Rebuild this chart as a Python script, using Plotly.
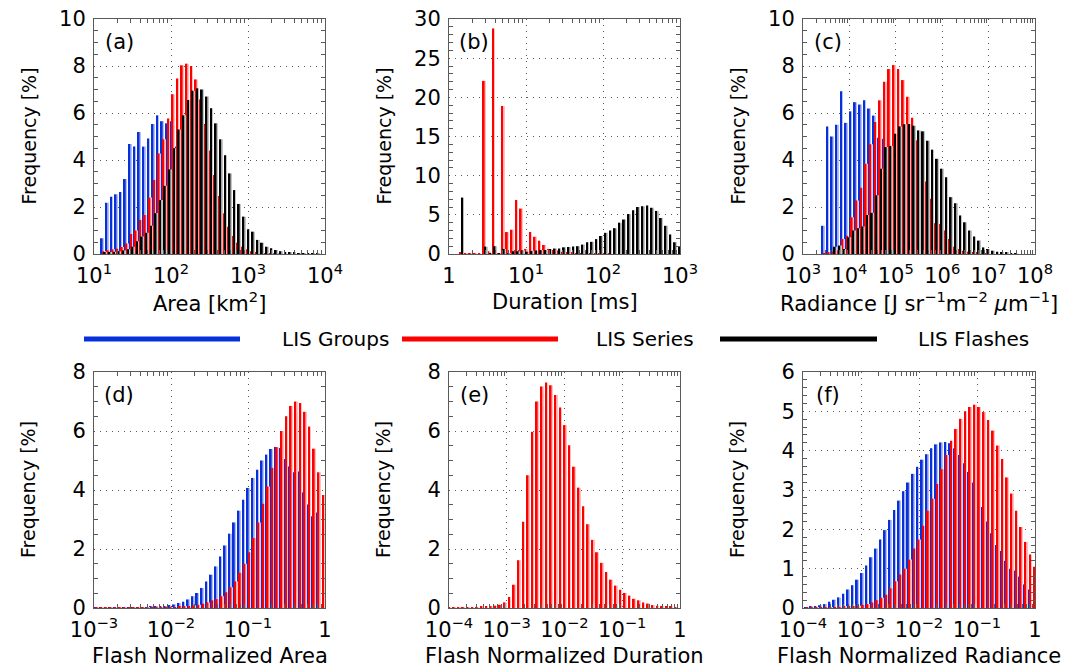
import numpy as np
import plotly.graph_objects as go

# ---------------------------------------------------------------------------
# Histogram data (frequency in %), one list per series, bins in log10 space
# ---------------------------------------------------------------------------

# (a) Area [km^2]  -- bins of 0.06 decade, first bin centre at 10^1.12
AREA_FIRST, AREA_STEP = 1.12, 0.06
area_groups = [0.67, 2.18, 2.44, 2.54, 2.64, 3.19, 4.68, 4.57, 5.19, 4.57, 4.91, 5.53, 5.90,
               5.65, 5.56, 5.65, 4.57, 4.95, 4.57, 3.43, 3.30, 2.35, 2.30, 1.45, 1.38, 0.88,
               0.78, 0.72, 0.42, 0.28, 0.20, 0.14, 0.10, 0.07, 0.05, 0.04, 0.03, 0.02, 0.01]
area_series = [0.12, 0.15, 0.20, 0.22, 0.30, 0.45, 0.85, 1.00, 1.45, 1.66, 2.40, 3.15, 4.28,
               4.88, 5.77, 6.80, 7.47, 8.03, 8.10, 8.00, 7.43, 6.58, 5.53, 4.40, 3.36, 2.47,
               1.73, 1.16, 0.77, 0.48, 0.31, 0.20, 0.12, 0.08, 0.05, 0.03, 0.02]
area_flashes = [0.05, 0.08, 0.10, 0.12, 0.15, 0.20, 0.31, 0.54, 0.74, 0.90, 1.20, 1.74, 2.30,
                2.90, 3.60, 4.50, 5.30, 5.90, 6.55, 6.95, 7.05, 7.00, 6.70, 6.20, 5.56, 4.88,
                4.20, 3.43, 2.72, 2.13, 1.59, 1.05, 0.95, 0.60, 0.48, 0.31, 0.24, 0.17, 0.12,
                0.09, 0.07, 0.05, 0.04, 0.03, 0.02, 0.02, 0.01]

# (b) Duration [ms] -- bins of 0.06 decade
DUR_FIRST, DUR_STEP = 0.151, 0.06
dur_series = [0.20, 0.02, 0.02, 0.02, 0.02, 22.1, 0.35, 28.8, 0.05, 18.9, 2.80, 3.10, 6.90,
              5.80, 0.65, 2.80, 2.20, 1.70, 1.15, 0.65, 0.50, 0.45, 0.30, 0.20, 0.15, 0.10,
              0.08, 0.05, 0.04, 0.03, 0.02, 0.02, 0.01]
dur_flashes = [7.20, 0.00, 0.00, 0.00, 0.00, 0.94, 0.10, 1.00, 0.10, 0.65, 0.10, 0.35, 0.35,
               0.47, 0.30, 0.40, 0.45, 0.50, 0.50, 0.65, 0.70, 0.70, 0.85, 0.90, 0.95, 1.00,
               1.20, 1.50, 1.55, 1.90, 2.30, 2.70, 3.00, 3.30, 4.00, 4.40, 5.10, 5.60, 6.00,
               6.10, 6.20, 5.90, 5.50, 4.60, 3.60, 2.50, 1.50, 0.90]

# (c) Radiance [J sr^-1 m^-2 um^-1] -- bins of 0.1 decade
RAD_FIRST, RAD_STEP = 3.45, 0.1
rad_groups = [1.20, 5.43, 5.00, 5.50, 6.93, 5.58, 6.07, 6.46, 6.36, 6.54, 6.19, 5.89, 4.95,
              4.90, 4.10, 3.60, 3.20, 2.65, 2.15, 1.70, 1.30, 0.95, 0.70, 0.40, 0.25, 0.15,
              0.10, 0.06, 0.04, 0.02]
rad_series = [0.02, 0.05, 0.10, 0.15, 0.64, 0.78, 1.56, 2.28, 2.82, 3.84, 4.67, 5.62, 6.54,
              7.33, 7.87, 8.04, 7.87, 7.40, 6.69, 5.80, 4.84, 3.94, 3.09, 2.35, 1.31, 1.28,
              1.00, 0.64, 0.31, 0.21, 0.14, 0.10, 0.07, 0.05, 0.03, 0.02]
rad_flashes = [0.00, 0.00, 0.31, 0.36, 0.21, 0.71, 1.00, 1.10, 1.17, 1.66, 1.75, 2.50, 3.63,
               4.55, 4.60, 5.12, 5.43, 5.52, 5.53, 5.46, 5.26, 5.22, 4.82, 4.44, 4.05, 3.63,
               3.27, 2.42, 2.16, 1.64, 1.35, 1.00, 0.74, 0.57, 0.28, 0.21, 0.14, 0.10, 0.07,
               0.05, 0.03, 0.02]

# (d) Flash normalized area -- bins of 0.06 decade
NAREA_FIRST, NAREA_STEP = -2.975, 0.06
narea_groups = [0.01, 0.01, 0.01, 0.01, 0.01, 0.01, 0.02, 0.02, 0.02, 0.02, 0.03, 0.03, 0.05,
                0.05, 0.06, 0.07, 0.10, 0.12, 0.17, 0.21, 0.29, 0.40, 0.51, 0.68, 0.90, 1.13,
                1.41, 1.75, 2.12, 2.52, 2.90, 3.30, 3.67, 4.07, 4.41, 4.69, 5.00, 5.20, 5.39,
                5.46, 5.42, 5.05, 4.80, 4.60, 4.63, 3.92, 3.51, 3.11, 3.24]
narea_series = [0.01, 0.01, 0.01, 0.01, 0.01, 0.01, 0.01, 0.01, 0.01, 0.01, 0.02, 0.02, 0.02,
                0.02, 0.02, 0.02, 0.03, 0.03, 0.04, 0.05, 0.06, 0.09, 0.11, 0.14, 0.19, 0.26,
                0.30, 0.40, 0.53, 0.70, 0.90, 1.19, 1.50, 1.89, 2.37, 2.90, 3.53, 4.12, 4.75,
                5.45, 6.00, 6.50, 6.85, 7.00, 6.95, 6.65, 6.15, 5.40, 4.60, 3.83]

# (e) Flash normalized duration -- bins of 0.08 decade
NDUR_FIRST, NDUR_STEP = -4.0, 0.08
ndur_series = [0.02, 0.02, 0.02, 0.02, 0.02, 0.03, 0.03, 0.04, 0.05, 0.06, 0.08, 0.11, 0.19,
               0.37, 0.79, 1.62, 2.92, 4.50, 5.97, 7.00, 7.51, 7.64, 7.55, 7.22, 6.80, 6.20,
               5.52, 4.79, 4.08, 3.45, 2.84, 2.31, 1.89, 1.53, 1.22, 0.96, 0.76, 0.62, 0.51,
               0.42, 0.31, 0.26, 0.19, 0.15, 0.10, 0.08, 0.06, 0.05, 0.04, 0.03]

# (f) Flash normalized radiance -- bins of 0.08 decade
NRAD_FIRST, NRAD_STEP = -3.94, 0.08
nrad_groups = [0.02, 0.03, 0.04, 0.07, 0.10, 0.16, 0.21, 0.27, 0.36, 0.47, 0.58, 0.72, 0.89,
               1.08, 1.29, 1.51, 1.74, 1.98, 2.24, 2.49, 2.73, 2.97, 3.19, 3.41, 3.59, 3.77,
               3.91, 4.06, 4.16, 4.21, 4.22, 4.19, 4.06, 3.89, 3.68, 3.46, 3.19, 2.88, 2.57,
               2.20, 1.90, 1.60, 1.45, 1.20, 1.00, 0.95, 0.80, 0.60, 0.47]
nrad_series = [0.01, 0.01, 0.01, 0.01, 0.02, 0.02, 0.02, 0.02, 0.03, 0.03, 0.04, 0.06, 0.08,
               0.10, 0.14, 0.20, 0.26, 0.34, 0.50, 0.68, 0.85, 1.00, 1.23, 1.51, 1.74, 2.09,
               2.47, 2.78, 3.15, 3.53, 3.89, 4.25, 4.55, 4.81, 5.00, 5.11, 5.17, 5.11, 4.98,
               4.78, 4.51, 4.13, 3.79, 3.32, 2.91, 2.47, 2.06, 1.68, 1.36, 1.05]

# Axis tick labels
top_xticks = {
    "a": (["10<sup>1</sup>", "10<sup>2</sup>", "10<sup>3</sup>", "10<sup>4</sup>"], [1, 2, 3, 4]),
    "b": (["1", "10<sup>1</sup>", "10<sup>2</sup>", "10<sup>3</sup>"], [0, 1, 2, 3]),
    "c": (["10<sup>3</sup>", "10<sup>4</sup>", "10<sup>5</sup>", "10<sup>6</sup>",
           "10<sup>7</sup>", "10<sup>8</sup>"], [3, 4, 5, 6, 7, 8]),
}
bottom_xticks = {
    "d": (["10<sup>\u22123</sup>", "10<sup>\u22122</sup>", "10<sup>\u22121</sup>", "1"], [-3, -2, -1, 0]),
    "e": (["10<sup>\u22124</sup>", "10<sup>\u22123</sup>", "10<sup>\u22122</sup>",
           "10<sup>\u22121</sup>", "1"], [-4, -3, -2, -1, 0]),
    "f": (["10<sup>\u22124</sup>", "10<sup>\u22123</sup>", "10<sup>\u22122</sup>",
           "10<sup>\u22121</sup>", "1"], [-4, -3, -2, -1, 0]),
}

# ---------------------------------------------------------------------------
# Styling
# ---------------------------------------------------------------------------
W, H = 1088, 668
FONT = "DejaVu Sans"
BLUE, RED, BLACK = "#0630dc", "#ff0000", "#000000"
# pale edge drawn on the right of every bar (soft anti-aliased look)
EDGE = {BLUE: "#b8c0ee", RED: "#ffc0c0", BLACK: "#c4c4c4"}
FRAME = "#5a5a5a"
GRID = "#5a5a5a"

COLS = [(94, 325), (449, 680), (803, 1035)]
ROWS = [(19, 254), (372, 608)]


def px_x(v):
    return v / W


def px_y(v):
    return 1 - v / H


panels = [
    dict(key="a", row=0, col=0, xr=[1, 4], yr=[0, 10], ydt=2, ymin=0.5,
         first=AREA_FIRST, step=AREA_STEP,
         series=[(area_groups, BLUE, -1 / 3), (area_series, RED, 0.0), (area_flashes, BLACK, 1 / 3)],
         xtitle="Area [km<sup>2</sup>]"),
    dict(key="b", row=0, col=1, xr=[0, 3], yr=[0, 30], ydt=5, ymin=1,
         first=DUR_FIRST, step=DUR_STEP,
         series=[(dur_series, RED, 0.0), (dur_flashes, BLACK, 1 / 3)],
         xtitle="Duration [ms]"),
    dict(key="c", row=0, col=2, xr=[3, 8], yr=[0, 10], ydt=2, ymin=0.5,
         first=RAD_FIRST, step=RAD_STEP,
         series=[(rad_groups, BLUE, -1 / 3), (rad_series, RED, 0.0), (rad_flashes, BLACK, 1 / 3)],
         xtitle="Radiance [J sr<sup>\u22121</sup>m<sup>\u22122</sup> <i>\u03bc</i>m<sup>\u22121</sup>]"),
    dict(key="d", row=1, col=0, xr=[-3, 0], yr=[0, 8], ydt=2, ymin=0.5,
         first=NAREA_FIRST, step=NAREA_STEP,
         series=[(narea_groups, BLUE, -0.15), (narea_series, RED, 0.15)],
         xtitle="Flash Normalized Area"),
    dict(key="e", row=1, col=1, xr=[-4, 0], yr=[0, 8], ydt=2, ymin=0.5,
         first=NDUR_FIRST, step=NDUR_STEP,
         series=[(ndur_series, RED, 0.0)],
         xtitle="Flash Normalized Duration"),
    dict(key="f", row=1, col=2, xr=[-4, 0], yr=[0, 6], ydt=1, ymin=0.2,
         first=NRAD_FIRST, step=NRAD_STEP,
         series=[(nrad_groups, BLUE, -0.15), (nrad_series, RED, 0.15)],
         xtitle="Flash Normalized Radiance"),
]

BAR_W = 0.38     # bar width as a fraction of the bin width
EDGE_W = 0.2     # width of the pale right-hand edge

fig = go.Figure()
layout = dict(
    width=W, height=H, margin=dict(l=0, r=0, t=0, b=0, pad=0, autoexpand=False),
    paper_bgcolor="white", plot_bgcolor="white",
    barmode="overlay", showlegend=False,
    font=dict(family=FONT, size=20, color="black"),
)
annotations = []
shapes = []

for i, p in enumerate(panels):
    sfx = "" if i == 0 else str(i + 1)
    ticktext, tickvals = (top_xticks if p["row"] == 0 else bottom_xticks)[p["key"]]
    x0, x1 = COLS[p["col"]]
    y0, y1 = ROWS[p["row"]]

    for vals, color, off in p["series"]:
        k = np.arange(len(vals))
        centres = p["first"] + p["step"] * (k + off)
        fig.add_trace(go.Bar(
            x=centres + p["step"] * (BAR_W + EDGE_W) / 2, y=vals, width=EDGE_W * p["step"],
            marker=dict(color=EDGE[color], line=dict(width=0)),
            xaxis="x" + sfx, yaxis="y" + sfx, hoverinfo="skip",
        ))
        fig.add_trace(go.Bar(
            x=centres, y=vals, width=BAR_W * p["step"],
            marker=dict(color=color, line=dict(width=0)),
            xaxis="x" + sfx, yaxis="y" + sfx, hoverinfo="skip",
        ))

    # log-decade minor ticks at 2..9
    minor_x = [d + np.log10(m) for d in range(p["xr"][0], p["xr"][1]) for m in range(2, 10)]

    common = dict(
        showline=True, linecolor=FRAME, linewidth=1, mirror="allticks",
        showgrid=True, gridcolor=GRID, gridwidth=1, griddash="1px,5px",
        zeroline=False, ticks="", fixedrange=True, automargin=False,
        tickfont=dict(family=FONT, size=21, color="black"),
    )
    layout["xaxis" + sfx] = dict(
        common, domain=[px_x(x0), px_x(x1)], range=p["xr"], anchor="y" + sfx,
        tickmode="array", tickvals=tickvals, ticktext=ticktext, ticklabelstandoff=3,
        minor=dict(tickmode="array", tickvals=minor_x, ticks="inside", ticklen=4,
                   tickcolor=FRAME, showgrid=False),
    )
    layout["yaxis" + sfx] = dict(
        common, domain=[px_y(y1), px_y(y0)], range=p["yr"], anchor="x" + sfx,
        tickmode="linear", tick0=0, dtick=p["ydt"], ticklabelstandoff=3,
        minor=dict(dtick=p["ymin"], ticks="inside", ticklen=4, tickcolor=FRAME, showgrid=False),
    )

    xc = (x0 + x1) / 2
    title_y = 302 if p["row"] == 0 else 656
    annotations.append(dict(
        text=p["xtitle"], xref="paper", yref="paper", x=px_x(xc), y=px_y(title_y),
        xanchor="center", yanchor="middle", showarrow=False,
        font=dict(family=FONT, size=21, color="black"),
    ))
    annotations.append(dict(
        text="Frequency [%]", xref="paper", yref="paper", textangle=-90,
        x=px_x(x0 - 66), y=px_y((y0 + y1) / 2), xanchor="center", yanchor="middle",
        showarrow=False, font=dict(family=FONT, size=19, color="black"),
    ))
    annotations.append(dict(
        text="(" + p["key"] + ")", xref="paper", yref="paper",
        x=px_x(x0 + 25), y=px_y(y0 + 23), xanchor="center", yanchor="middle",
        showarrow=False, font=dict(family=FONT, size=21, color="black"),
    ))

# Legend row between the two panel rows
legend_items = [("LIS Groups", BLUE, 84, 240, 335),
                ("LIS Series", RED, 402, 558, 645),
                ("LIS Flashes", BLACK, 720, 877, 973)]
for label, color, lx0, lx1, tx in legend_items:
    shapes.append(dict(type="line", xref="paper", yref="paper",
                       x0=px_x(lx0), x1=px_x(lx1), y0=px_y(339), y1=px_y(339),
                       line=dict(color=color, width=5)))
    annotations.append(dict(text=label, xref="paper", yref="paper", x=px_x(tx), y=px_y(339),
                            xanchor="center", yanchor="middle", showarrow=False,
                            font=dict(family=FONT, size=20, color="black")))

layout["annotations"] = annotations
layout["shapes"] = shapes
fig.update_layout(**layout)
fig.write_html("out.html")
